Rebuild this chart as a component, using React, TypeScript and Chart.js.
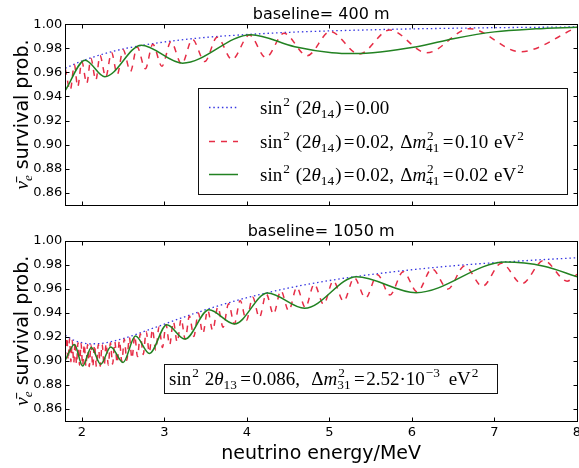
import React, { useEffect, useRef } from 'react';
import { Chart, registerables } from 'chart.js';

Chart.register(...registerables);

// ---------------- axes / text ----------------
const xTickValues = [2, 3, 4, 5, 6, 7, 8];
const yTickValues = [0.86, 0.88, 0.9, 0.92, 0.94, 0.96, 0.98, 1.0];
const xRange = [1.8, 8];
const yRange = [0.85, 1.0];

const panelTitles = ['baseline= 400 m', 'baseline= 1050 m'];
const xAxisTitle = 'neutrino energy/MeV';
const yAxisTitle = 'survival prob.';
const seriesLabels = [
  'sin² (2θ₁₄) = 0.00',
  'sin² (2θ₁₄) = 0.02, Δm²₄₁ = 0.10 eV²',
  'sin² (2θ₁₄) = 0.02, Δm²₄₁ = 0.02 eV²',
];
const legendSinValues = ['0.00', '0.02', '0.02'];
const legendDmValues = ['', '0.10', '0.02'];
const annotationSin13 = '0.086';
const annotationDm31 = '2.52·10';
const annotationDm31Exp = '−3';

// ---------------- baseline 400 m ----------------
const energy400NoSterile = [1.8, 2.0, 2.2, 2.4, 2.6, 2.8, 3.0, 3.5, 4.0, 4.5, 5.0, 5.5, 6.0, 6.5, 7.0, 7.5, 8.0];
const prob400NoSterile = [0.9635, 0.9695, 0.9741, 0.9779, 0.9809, 0.9833, 0.9853, 0.9891, 0.9915, 0.9933, 0.9945, 0.9954, 0.9962, 0.9967, 0.9972, 0.9975, 0.9978];

const energy400Dm010 = [1.8, 1.86, 1.91, 1.95, 2.0, 2.06, 2.11, 2.17, 2.22, 2.29, 2.36, 2.43, 2.5, 2.59, 2.67, 2.77, 2.86, 2.97, 3.08, 3.21, 3.34, 3.49, 3.64, 3.82, 4.03, 4.23, 4.45, 4.73, 5.01, 5.36, 5.73, 6.18, 6.7, 7.31, 8.0];
const prob400Dm010 = [0.963, 0.9452, 0.9665, 0.948, 0.969, 0.9508, 0.9715, 0.9535, 0.974, 0.956, 0.9765, 0.9583, 0.9788, 0.9608, 0.9812, 0.963, 0.9835, 0.9651, 0.9855, 0.9669, 0.9875, 0.969, 0.9893, 0.9707, 0.991, 0.9724, 0.9925, 0.9739, 0.994, 0.9752, 0.9953, 0.9763, 0.9964, 0.9772, 0.9975];

const energy400Dm002 = [1.8, 2.04, 2.28, 2.72, 3.22, 4.05, 4.58, 5.03, 5.3, 6.06, 6.5, 7.0, 7.5, 8.0];
const prob400Dm002 = [0.945, 0.9702, 0.9564, 0.9826, 0.9677, 0.9914, 0.9814, 0.9764, 0.9757, 0.9814, 0.988, 0.9937, 0.9962, 0.9976];

// ---------------- baseline 1050 m ----------------
const energy1050NoSterile = [1.8, 1.9, 2.0, 2.1, 2.2, 2.3, 2.4, 2.6, 2.8, 3.0, 3.2, 3.4, 3.6, 3.8, 4.0, 4.5, 5.0, 5.5, 6.0, 6.5, 7.0, 7.5, 8.0];
const prob1050NoSterile = [0.9212, 0.9171, 0.915, 0.9141, 0.9142, 0.9151, 0.9166, 0.9206, 0.9255, 0.9305, 0.9355, 0.9402, 0.9446, 0.9487, 0.9525, 0.9605, 0.9668, 0.9718, 0.9758, 0.9791, 0.9817, 0.9839, 0.9858];

const energy1050Dm010 = [
  1.8, 1.819, 1.835, 1.851, 1.868, 1.884, 1.902, 1.919, 1.936, 1.954, 1.973, 1.991, 2.01, 2.03, 2.05, 2.07, 2.09, 2.111, 2.133, 2.154,
  2.177, 2.2, 2.223, 2.246, 2.271, 2.295, 2.321, 2.347, 2.373, 2.4, 2.428, 2.456, 2.485, 2.515, 2.545, 2.576, 2.608, 2.641, 2.675, 2.709,
  2.744, 2.78, 2.818, 2.856, 2.895, 2.936, 2.977, 3.02, 3.064, 3.109, 3.156, 3.204, 3.253, 3.304, 3.357, 3.411, 3.467, 3.525, 3.586, 3.648,
  3.712, 3.779, 3.848, 3.919, 3.994, 4.071, 4.151, 4.235, 4.322, 4.412, 4.507, 4.605, 4.708, 4.816, 4.929, 5.047, 5.171, 5.301, 5.438, 5.582,
  5.734, 5.894, 6.064, 6.244, 6.435, 6.638, 6.854, 7.085, 7.331, 7.596, 7.88, 8.0,
];
const prob1050Dm010 = [
  0.9022, 0.9195, 0.9006, 0.9181, 0.8992, 0.9169, 0.8981, 0.9159, 0.8972, 0.915, 0.8964, 0.9143, 0.8958, 0.9138, 0.8954, 0.9134, 0.8951, 0.9133, 0.895, 0.9132,
  0.8951, 0.9134, 0.8954, 0.9137, 0.8958, 0.9142, 0.8964, 0.9149, 0.8972, 0.9158, 0.8981, 0.9168, 0.8992, 0.918, 0.9004, 0.9193, 0.9018, 0.9208, 0.9034, 0.9224,
  0.9051, 0.9242, 0.9069, 0.9261, 0.9088, 0.9281, 0.9109, 0.9302, 0.9131, 0.9325, 0.9154, 0.9348, 0.9178, 0.9372, 0.9202, 0.9397, 0.9227, 0.9422, 0.9253, 0.9448,
  0.9279, 0.9475, 0.9306, 0.9502, 0.9334, 0.9529, 0.936, 0.9557, 0.9388, 0.9584, 0.9416, 0.9611, 0.9443, 0.9638, 0.947, 0.9665, 0.9496, 0.9691, 0.9522, 0.9717,
  0.9548, 0.9742, 0.9573, 0.9766, 0.9597, 0.979, 0.962, 0.9813, 0.9642, 0.9835, 0.9663, 0.972,
];

const energy1050Dm002 = [1.8, 1.91, 2.01, 2.115, 2.23, 2.35, 2.5, 2.65, 2.82, 3.03, 3.25, 3.54, 3.85, 4.25, 4.7, 5.33, 6.05, 7.13, 7.6, 8.0];
const prob1050Dm002 = [0.9005, 0.9135, 0.8956, 0.911, 0.897, 0.9115, 0.8985, 0.9205, 0.906, 0.93, 0.918, 0.9425, 0.9306, 0.9565, 0.9437, 0.97, 0.9567, 0.9822, 0.9787, 0.97];

// ---------------- styles ----------------
const SERIF = '"Liberation Serif", "DejaVu Serif", serif';
const SANS = '"DejaVu Sans", sans-serif';
const COL_BLUE = 'rgb(55,55,225)';
const COL_RED = 'rgb(230,45,70)';
const COL_GREEN = 'rgb(34,130,34)';
const W = 579;

type Tok = { t?: string; it?: boolean; sup?: string; sub?: string; sp?: number };

function drawTokens(ctx: CanvasRenderingContext2D, toks: Tok[], x: number, y: number, size: number, draw = true): number {
  let cx = x;
  ctx.textAlign = 'left';
  ctx.textBaseline = 'alphabetic';
  for (const k of toks) {
    if (k.sp) {
      cx += k.sp * size;
      continue;
    }
    if (k.t) {
      ctx.font = `${k.it ? 'italic ' : ''}${size}px ${SERIF}`;
      if (draw) ctx.fillText(k.t, cx, y);
      cx += ctx.measureText(k.t).width;
    }
    if (k.sup || k.sub) {
      const s = size * 0.7;
      ctx.font = `${s}px ${SERIF}`;
      let w = 0;
      if (k.sup) {
        if (draw) ctx.fillText(k.sup, cx + 1, y - size * 0.42);
        w = Math.max(w, ctx.measureText(k.sup).width);
      }
      if (k.sub) {
        if (draw) ctx.fillText(k.sub, cx, y + size * 0.24);
        w = Math.max(w, ctx.measureText(k.sub).width);
      }
      cx += w + size * 0.06;
    }
  }
  return cx - x;
}

function legendTokens(i: number): Tok[] {
  const toks: Tok[] = [
    { t: 'sin' }, { sup: '2' }, { sp: 0.3 }, { t: '(2' }, { t: 'θ', it: true }, { sub: '14' }, { t: ')' },
    { sp: 0.12 }, { t: '=' }, { sp: 0.08 },
  ];
  if (!legendDmValues[i]) {
    toks.push({ t: legendSinValues[i] });
  } else {
    toks.push(
      { t: legendSinValues[i] + ',' }, { sp: 0.32 }, { t: 'Δ' }, { t: 'm', it: true }, { sup: '2', sub: '41' },
      { sp: 0.12 }, { t: '=' }, { sp: 0.08 }, { t: legendDmValues[i] }, { sp: 0.3 }, { t: 'eV' }, { sup: '2' },
    );
  }
  return toks;
}

const annotationTokens: Tok[] = [
  { t: 'sin' }, { sup: '2' }, { sp: 0.3 }, { t: '2' }, { t: 'θ', it: true }, { sub: '13' }, { sp: 0.12 }, { t: '=' }, { sp: 0.08 },
  { t: annotationSin13 + ',' }, { sp: 0.6 }, { t: 'Δ' }, { t: 'm', it: true }, { sup: '2', sub: '31' }, { sp: 0.12 }, { t: '=' },
  { sp: 0.08 }, { t: annotationDm31 }, { sup: annotationDm31Exp }, { sp: 0.45 }, { t: 'eV' }, { sup: '2' },
];

function drawYLabel(ctx: CanvasRenderingContext2D, bx: number, cy: number) {
  const size = 19;
  ctx.save();
  ctx.translate(bx, cy);
  ctx.rotate(-Math.PI / 2);
  ctx.textAlign = 'left';
  ctx.textBaseline = 'alphabetic';
  ctx.font = `italic ${size}px ${SERIF}`;
  const nuW = ctx.measureText('ν̄').width;
  ctx.font = `italic ${size * 0.7}px ${SERIF}`;
  const eW = ctx.measureText('e').width;
  ctx.font = `${size}px ${SANS}`;
  const restW = ctx.measureText(' ' + yAxisTitle).width;
  let x0 = -(nuW + eW + restW) / 2;
  ctx.fillStyle = '#000';
  ctx.font = `italic ${size}px ${SERIF}`;
  ctx.fillText('ν̄', x0, 0);
  x0 += nuW;
  ctx.font = `italic ${size * 0.7}px ${SERIF}`;
  ctx.fillText('e', x0, size * 0.22);
  x0 += eW;
  ctx.font = `${size}px ${SANS}`;
  ctx.fillText(' ' + yAxisTitle, x0, 0);
  ctx.restore();
}

type Panel = {
  idx: number;
  height: number;
  top: number;
  padTop: number;
  xAxisH: number;
  showX: boolean;
  energies: number[][];
  probs: number[][];
};

const panels: Panel[] = [
  {
    idx: 0, top: 0, height: 215, padTop: 24.3, xAxisH: 10.3, showX: false,
    energies: [energy400NoSterile, energy400Dm010, energy400Dm002],
    probs: [prob400NoSterile, prob400Dm010, prob400Dm002],
  },
  {
    idx: 1, top: 215, height: 253, padTop: 25.7, xAxisH: 47.3, showX: true,
    energies: [energy1050NoSterile, energy1050Dm010, energy1050Dm002],
    probs: [prob1050NoSterile, prob1050Dm010, prob1050Dm002],
  },
];

const lineStyles = [
  { color: COL_BLUE, width: 1.3, dash: [1.5, 2.8], order: 2 },
  { color: COL_RED, width: 1.5, dash: [6, 6], order: 1 },
  { color: COL_GREEN, width: 1.5, dash: [] as number[], order: 0 },
];

function makeOverlay(p: Panel) {
  return {
    id: 'overlay' + p.idx,
    afterDatasetsDraw(chart: any) {
      const { ctx, chartArea, scales } = chart;
      const L = Math.round(chartArea.left) + 0.5;
      const R = Math.round(chartArea.right) + 0.5;
      const T = Math.round(chartArea.top) + 0.5;
      const B = Math.round(chartArea.bottom) + 0.5;
      ctx.save();
      ctx.strokeStyle = '#000';
      ctx.lineWidth = 1;
      ctx.setLineDash([]);
      ctx.strokeRect(L, T, R - L, B - T);
      const tl = 4;
      ctx.beginPath();
      for (const v of xTickValues) {
        const px = Math.round(scales.x.getPixelForValue(v)) + 0.5;
        ctx.moveTo(px, B); ctx.lineTo(px, B - tl);
        ctx.moveTo(px, T); ctx.lineTo(px, T + tl);
      }
      for (const v of yTickValues) {
        const py = Math.round(scales.y.getPixelForValue(v)) + 0.5;
        ctx.moveTo(L, py); ctx.lineTo(L + tl, py);
        ctx.moveTo(R, py); ctx.lineTo(R - tl, py);
      }
      ctx.stroke();
      ctx.restore();
    },
    afterDraw(chart: any) {
      const { ctx, chartArea } = chart;
      const cx = (chartArea.left + chartArea.right) / 2;
      ctx.save();
      ctx.fillStyle = '#000';
      // title
      ctx.font = `16px ${SANS}`;
      ctx.textAlign = 'center';
      ctx.textBaseline = 'alphabetic';
      ctx.fillText(panelTitles[p.idx], cx, chartArea.top - 5);
      // y label
      drawYLabel(ctx, 27.5, (chartArea.top + chartArea.bottom) / 2);
      if (p.idx === 0) {
        // legend box
        const bx = 198.5, by = 88.5, bw = 369, bh = 106;
        ctx.fillStyle = '#fff';
        ctx.fillRect(bx, by, bw, bh);
        ctx.strokeStyle = '#111';
        ctx.lineWidth = 1;
        ctx.strokeRect(bx, by, bw, bh);
        const rows = [107.5, 141.5, 174.5];
        rows.forEach((ry, i) => {
          const st = lineStyles[i];
          ctx.strokeStyle = st.color;
          ctx.lineWidth = st.width;
          ctx.setLineDash(st.dash);
          ctx.beginPath();
          ctx.moveTo(209, ry);
          ctx.lineTo(238, ry);
          ctx.stroke();
          ctx.setLineDash([]);
          ctx.fillStyle = '#000';
          drawTokens(ctx, legendTokens(i), 260, ry + 6, 19);
        });
      } else {
        // annotation box
        const ax = 164.5, ay = 149.5, aw = 333, ah = 29;
        ctx.fillStyle = '#fff';
        ctx.fillRect(ax, ay, aw, ah);
        ctx.strokeStyle = '#111';
        ctx.lineWidth = 1;
        ctx.strokeRect(ax, ay, aw, ah);
        ctx.fillStyle = '#000';
        drawTokens(ctx, annotationTokens, 169, 169.5, 19);
        // x title
        ctx.font = `19px ${SANS}`;
        ctx.textAlign = 'center';
        ctx.textBaseline = 'alphabetic';
        ctx.fillText(xAxisTitle, cx, 243.5);
      }
      ctx.restore();
    },
  };
}

function PlotPanel({ p }: { p: Panel }) {
  const ref = useRef<HTMLCanvasElement>(null);
  useEffect(() => {
    const datasets = p.energies.map((xs, i) => ({
      label: seriesLabels[i],
      data: xs.map((x, j) => ({ x, y: p.probs[i][j] })),
      borderColor: lineStyles[i].color,
      borderWidth: lineStyles[i].width,
      borderDash: lineStyles[i].dash,
      order: lineStyles[i].order,
      pointRadius: 0,
      fill: false,
      cubicInterpolationMode: 'monotone' as const,
    }));
    const chart = new Chart(ref.current!, {
      type: 'line',
      data: { datasets },
      options: {
        animation: false,
        responsive: false,
        devicePixelRatio: 1,
        layout: { padding: { top: p.padTop, right: 2, left: 0, bottom: 0 } },
        plugins: { legend: { display: false }, tooltip: { enabled: false }, title: { display: false } },
        scales: {
          x: {
            type: 'linear',
            min: xRange[0],
            max: xRange[1],
            grid: { display: false, drawTicks: false },
            border: { display: false },
            afterBuildTicks: (s: any) => { s.ticks = xTickValues.map((v) => ({ value: v })); },
            ticks: {
              display: p.showX,
              padding: 4,
              autoSkip: false,
              maxRotation: 0,
              color: '#000',
              font: { family: 'DejaVu Sans', size: 13 },
              callback: (v: any) => String(v),
            },
            afterFit: (s: any) => { s.height = p.xAxisH; s.paddingLeft = 0; s.paddingRight = 0; },
          },
          y: {
            type: 'linear',
            min: yRange[0],
            max: yRange[1],
            grid: { display: false, drawTicks: false },
            border: { display: false },
            afterBuildTicks: (s: any) => { s.ticks = yTickValues.map((v) => ({ value: v })); },
            ticks: {
              padding: 3,
              autoSkip: false,
              color: '#000',
              font: { family: 'DejaVu Sans', size: 13 },
              callback: (v: any) => Number(v).toFixed(2),
            },
            afterFit: (s: any) => { s.width = 65.3; s.paddingTop = 0; s.paddingBottom = 0; },
          },
        },
      },
      plugins: [makeOverlay(p)],
    } as any);
    return () => chart.destroy();
  }, []);
  return (
    <canvas
      ref={ref}
      width={W}
      height={p.height}
      style={{ position: 'absolute', left: 0, top: p.top, width: W, height: p.height, display: 'block' }}
    />
  );
}

export default function App() {
  return (
    <div style={{ position: 'fixed', left: 0, top: 0, width: W, height: 468, background: '#fff', overflow: 'hidden' }}>
      {panels.map((p) => (
        <PlotPanel key={p.idx} p={p} />
      ))}
    </div>
  );
}
